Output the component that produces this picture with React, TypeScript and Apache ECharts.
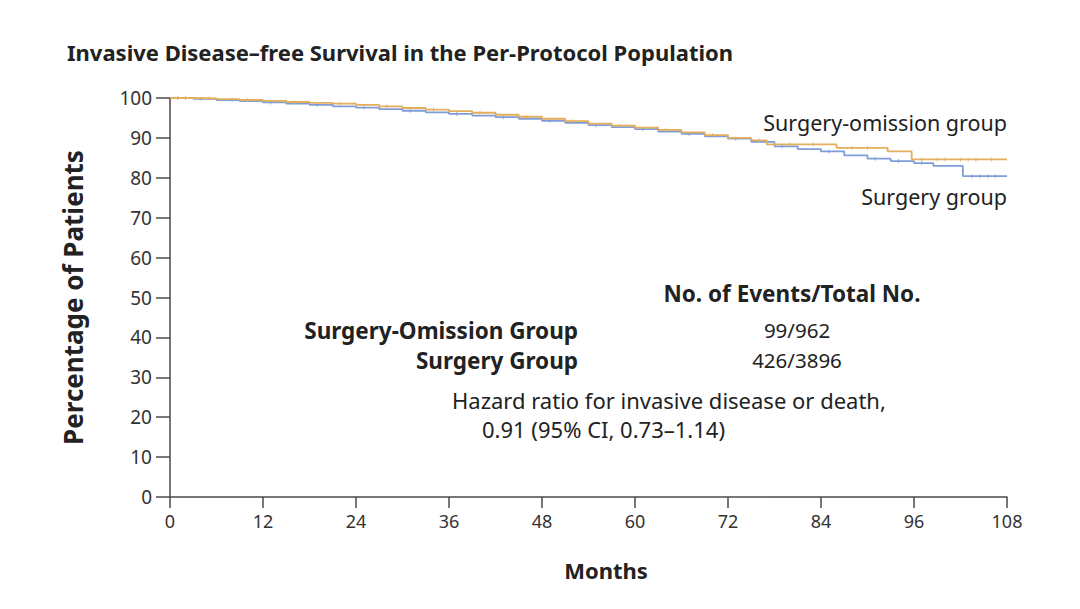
import React, { useEffect, useRef } from "react";
import * as echarts from "echarts";

// ---- Data ----
const monthTicks = [0, 12, 24, 36, 48, 60, 72, 84, 96, 108];
const yTicks = [0, 10, 20, 30, 40, 50, 60, 70, 80, 90, 100];

const omissionMonths = [0, 3, 6, 9, 12, 15, 18, 21, 24, 27, 30, 33, 36, 39, 42, 45, 48, 51, 54, 57, 60, 63, 66, 69, 72, 75, 77, 86, 92.6, 95.7, 108];
const omissionValues = [100, 99.9, 99.7, 99.5, 99.3, 99.0, 98.8, 98.6, 98.3, 97.9, 97.5, 97.1, 96.7, 96.3, 95.8, 95.3, 94.8, 94.2, 93.6, 93.1, 92.6, 92.0, 91.4, 90.7, 90.0, 89.4, 88.4, 87.5, 86.6, 84.6, 84.6];

const surgeryMonths = [0, 3, 6, 9, 12, 15, 18, 21, 24, 27, 30, 33, 36, 39, 42, 45, 48, 51, 54, 57, 60, 63, 66, 69, 72, 75, 78, 81, 84, 87, 90, 93, 96, 98.5, 102.3, 108];
const surgeryValues = [100, 99.8, 99.5, 99.2, 98.9, 98.6, 98.3, 97.9, 97.6, 97.2, 96.8, 96.4, 96.0, 95.6, 95.2, 94.8, 94.3, 93.8, 93.2, 92.7, 92.2, 91.6, 91.0, 90.4, 89.8, 89.0, 87.9, 87.2, 86.6, 85.6, 84.8, 84.2, 83.7, 83.0, 80.4, 80.4];

const omissionCensor = [2, 5, 10, 16, 22, 28, 34, 40, 46, 52, 58, 64, 70, 76, 80, 83, 88, 90, 97, 99, 100, 102, 103, 104, 106];
const surgeryCensor = [1, 4, 8, 13, 19, 25, 31, 37, 43, 49, 55, 61, 67, 73, 79, 85, 91, 94, 97, 103.5, 104.5, 105.5, 106.5];

const omissionLabel = "Surgery-omission group";
const surgeryLabel = "Surgery group";
const title = "Invasive Disease\u2013free Survival in the Per-Protocol Population";
const xAxisName = "Months";
const yAxisName = "Percentage of Patients";
const tableHeader = "No. of Events/Total No.";
const groupNames = ["Surgery-Omission Group", "Surgery Group"];
const groupCounts = ["99/962", "426/3896"];
const hazardLines = ["Hazard ratio for invasive disease or death,", "0.91 (95% CI, 0.73\u20131.14)"];

const ORANGE = "#E3AF5C";
const BLUE = "#7F9DD6";
const AXIS = "#4a4a4a";
const FONT = "'Noto Sans', 'Open Sans', sans-serif";

function stepValue(months: number[], values: number[], m: number): number {
  let v = values[0];
  for (let i = 0; i < months.length; i++) {
    if (months[i] <= m) v = values[i];
  }
  return v;
}

export default function App() {
  const ref = useRef<HTMLDivElement>(null);

  useEffect(() => {
    document.body.style.margin = "0";
    if (!ref.current) return;
    const chart = echarts.init(ref.current, undefined, { renderer: "svg" });

    const omissionData = omissionMonths.map((m, i) => [m, omissionValues[i]]);
    const surgeryData = surgeryMonths.map((m, i) => [m, surgeryValues[i]]);
    const omCensorData = omissionCensor.map((m) => [m, stepValue(omissionMonths, omissionValues, m)]);
    const sgCensorData = surgeryCensor.map((m) => [m, stepValue(surgeryMonths, surgeryValues, m)]);

    const reg = (size: number) => ({ fill: "#222", font: `${size}px ${FONT}` });
    const bold = (size: number) => ({ fill: "#222", font: `bold ${size}px ${FONT}` });

    chart.setOption({
      animation: false,
      backgroundColor: "#ffffff",
      grid: { left: 170, right: 73, top: 98, bottom: 112, containLabel: false },
      xAxis: {
        type: "value",
        min: 0,
        max: 108,
        interval: 12,
        axisLine: { show: true, lineStyle: { color: AXIS, width: 1.5 } },
        axisTick: { show: true, length: 11, lineStyle: { color: AXIS, width: 1.5 } },
        axisLabel: {
          margin: 15,
          fontFamily: FONT,
          fontSize: 18,
          color: "#333",
          formatter: (v: number) => (monthTicks.includes(v) ? String(v) : ""),
        },
        splitLine: { show: false },
      },
      yAxis: {
        type: "value",
        min: 0,
        max: 100,
        interval: 10,
        name: yAxisName,
        nameLocation: "middle",
        nameRotate: 90,
        nameGap: 84,
        nameTextStyle: { fontFamily: FONT, fontWeight: "bold", fontSize: 26, color: "#222" },
        axisLine: { show: true, lineStyle: { color: AXIS, width: 1.5 } },
        axisTick: { show: true, length: 14, lineStyle: { color: AXIS, width: 1.5 } },
        axisLabel: {
          margin: 18,
          fontFamily: FONT,
          fontSize: 19,
          color: "#333",
          formatter: (v: number) => (yTicks.includes(v) ? String(v) : ""),
        },
        splitLine: { show: false },
      },
      series: [
        {
          name: "Surgery",
          type: "line",
          step: "end",
          data: surgeryData,
          showSymbol: false,
          lineStyle: { color: BLUE, width: 1.8 },
          z: 2,
        },
        {
          name: "Surgery omission",
          type: "line",
          step: "end",
          data: omissionData,
          showSymbol: false,
          lineStyle: { color: ORANGE, width: 1.8 },
          z: 3,
        },
        {
          name: "Surgery censor",
          type: "scatter",
          data: sgCensorData,
          symbol: "rect",
          symbolSize: [1, 4],
          itemStyle: { color: BLUE },
          z: 2,
        },
        {
          name: "Omission censor",
          type: "scatter",
          data: omCensorData,
          symbol: "rect",
          symbolSize: [1, 4],
          itemStyle: { color: ORANGE },
          z: 3,
        },
      ],
      graphic: [
        {
          type: "text",
          x: 67,
          y: 52,
          style: { ...bold(22), text: title, textAlign: "left", textVerticalAlign: "middle" },
        },
        {
          type: "text",
          x: 606,
          y: 570,
          style: { ...bold(22), text: xAxisName, textAlign: "center", textVerticalAlign: "middle" },
        },
        {
          type: "text",
          x: 1007,
          y: 122,
          style: { ...reg(21.5), text: omissionLabel, textAlign: "right", textVerticalAlign: "middle" },
        },
        {
          type: "text",
          x: 1007,
          y: 196,
          style: { ...reg(21.5), text: surgeryLabel, textAlign: "right", textVerticalAlign: "middle" },
        },
        {
          type: "text",
          x: 792,
          y: 293,
          style: { ...bold(22.5), text: tableHeader, textAlign: "center", textVerticalAlign: "middle" },
        },
        {
          type: "text",
          x: 578,
          y: 330,
          style: { ...bold(22.5), text: groupNames[0], textAlign: "right", textVerticalAlign: "middle" },
        },
        {
          type: "text",
          x: 578,
          y: 360,
          style: { ...bold(22.5), text: groupNames[1], textAlign: "right", textVerticalAlign: "middle" },
        },
        {
          type: "text",
          x: 797,
          y: 330,
          style: { ...reg(20.5), text: groupCounts[0], textAlign: "center", textVerticalAlign: "middle" },
        },
        {
          type: "text",
          x: 797,
          y: 360,
          style: { ...reg(20.5), text: groupCounts[1], textAlign: "center", textVerticalAlign: "middle" },
        },
        {
          type: "text",
          x: 452,
          y: 400,
          style: { ...reg(22), text: hazardLines[0], textAlign: "left", textVerticalAlign: "middle" },
        },
        {
          type: "text",
          x: 482,
          y: 429,
          style: { ...reg(22), text: hazardLines[1], textAlign: "left", textVerticalAlign: "middle" },
        },
      ],
    });

    return () => {
      chart.dispose();
    };
  }, []);

  return <div ref={ref} style={{ width: 1080, height: 609 }} />;
}
